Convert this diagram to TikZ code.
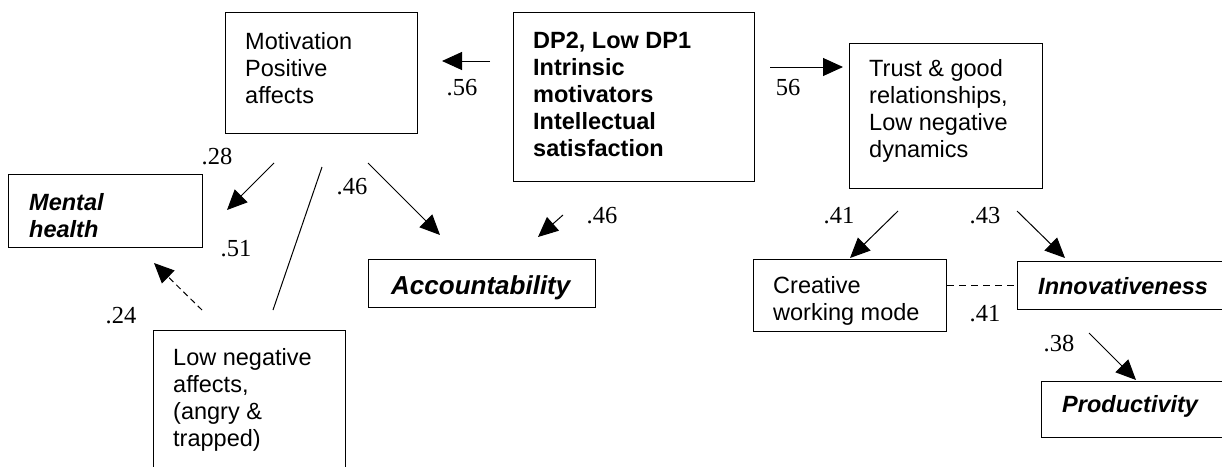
\documentclass[tikz,border=0pt]{standalone}
\usepackage{fontspec}
\setmainfont{Liberation Serif}
\setsansfont{Liberation Sans}
\usetikzlibrary{arrows.meta,positioning}

\begin{document}
\begin{tikzpicture}[x=1pt, y=-1pt,
    box/.style={draw, line width=1.3pt, anchor=north west, inner sep=0pt},
    txt/.style={anchor=north west, inner sep=0pt, align=left, font=\sffamily\fontsize{23.5}{27}\selectfont},
    coef/.style={inner sep=0pt, font=\fontsize{24.5}{28}\selectfont},
    link/.style={line width=1pt, -{Triangle[length=20pt,width=18pt]}}]

    \useasboundingbox (0,0) rectangle (1222,466);
    \clip (0,0) rectangle (1222,466);

    % Boxes
    \foreach \n/\x/\y/\w/\h in {
        mot/225/12/192/121, dp/513/12/241/169, trust/849/43/193/145,
        ment/8/174/194/73, acc/368/259/227/48, crea/753/259/193/72,
        innov/1017/261/230/48, prod/1041/381/200/56, low/153/330/192/160} {
        \node [box, minimum width=\w pt, minimum height=\h pt] (\n) at (\x,\y) {};
    }

    % Box texts
    \node [txt] (motT) at (245,32) {Motivation\\Positive\\affects};
    \node [txt, font=\sffamily\bfseries\fontsize{23.5}{27}\selectfont] (dpT) at (533,32)
        {DP2, Low DP1\\Intrinsic\\motivators\\Intellectual\\satisfaction};
    \node [txt] (trustT) at (869,59) {Trust \& good\\relationships,\\Low negative\\dynamics};
    \node [txt, font=\sffamily\bfseries\itshape\fontsize{23.5}{27}\selectfont] (mentT) at (29,193) {Mental\\health};
    \node [txt, font=\sffamily\bfseries\itshape\fontsize{26}{30}\selectfont] (accT) at (391,275) {Accountability};
    \node [txt] (creaT) at (773,276) {Creative\\working mode};
    \node [txt, font=\sffamily\bfseries\itshape\fontsize{23.5}{27}\selectfont] (innovT) at (1038,277) {Innovativeness};
    \node [txt, font=\sffamily\bfseries\itshape\fontsize{23.5}{27}\selectfont] (prodT) at (1062,395) {Productivity};
    \node [txt] (lowT) at (173,348) {Low negative\\affects,\\(angry \&\\trapped)};

    % Path ends
    \coordinate (dpW) at (490,61);    \coordinate (motE) at (442,61);
    \coordinate (dpE) at (770,67);    \coordinate (trustW) at (843,67);
    \coordinate (motS1) at (274,163); \coordinate (mentE) at (227,210);
    \coordinate (motS2) at (368,163); \coordinate (accN1) at (440,235);
    \coordinate (dpS) at (563,215);   \coordinate (accN2) at (538,237);
    \coordinate (motS3) at (322,167); \coordinate (lowN1) at (273,310);
    \coordinate (lowN2) at (202,310); \coordinate (mentS) at (154,263);
    \coordinate (trustS1) at (898,211); \coordinate (creaN) at (850,258);
    \coordinate (trustS2) at (1017,211); \coordinate (innovN) at (1065,258);
    \coordinate (innovS) at (1089,333); \coordinate (prodN) at (1136,380);

    % Paths
    \foreach \a/\b in {dpW/motE, dpE/trustW, motS1/mentE, motS2/accN1,
        dpS/accN2, trustS1/creaN, trustS2/innovN, innovS/prodN} {
        \draw [link] (\a) -- (\b);
    }
    \draw [line width=1pt] (motS3) -- (lowN1);
    \draw [link, dash pattern=on 6pt off 4pt] (lowN2) -- (mentS);
    \draw [line width=1pt, dash pattern=on 7pt off 5pt] (crea.east |- innov.west) -- (innov.west);

    % Coefficients
    \foreach \n/\x/\y/\t in {
        k1/217/157/.28, k2/352/187/.46, k3/236/249/.51, k4/121/316/.24,
        k5/462/88/.56, k6/602/216/.46, k7/788/88/56, k8/839/216/.41,
        k9/985/216/.43, k10/985/314/.41, k11/1059/344/.38} {
        \node [coef] (\n) at (\x,\y) {\t};
    }
\end{tikzpicture}
\end{document}
